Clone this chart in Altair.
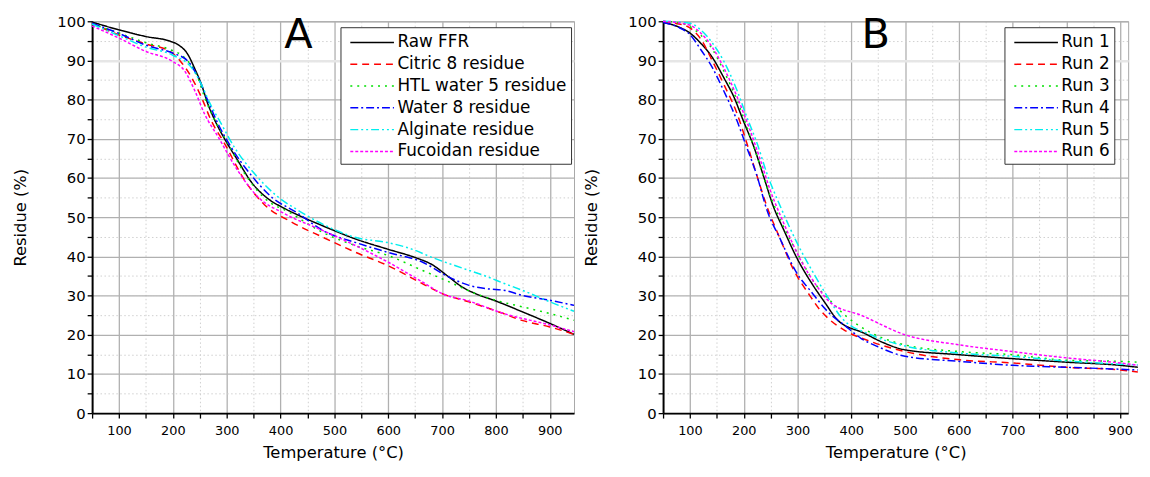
import altair as alt
import pandas as pd

# ---------------- Panel A data ----------------
a_names = ["Raw FFR", "Citric 8 residue", "HTL water 5 residue",
           "Water 8 residue", "Alginate residue", "Fucoidan residue"]

rawffr_T = [50, 100, 150, 195, 210, 228, 240, 253, 265, 278, 296, 320, 345, 375, 405, 430,
            480, 540, 600, 650, 680, 713, 737, 762, 800, 850, 900, 945]
rawffr_R = [99.8, 97.8, 96.1, 94.9, 94.0, 91.5, 88.1, 83.9, 78.9, 74.7, 70.0, 64.6, 59.1, 54.9,
            52.4, 50.7, 47.7, 44.4, 41.8, 39.7, 38.0, 34.7, 32.2, 30.5, 28.6, 25.8, 22.9, 20.1]

citric_T = [50, 100, 150, 195, 214, 235, 253, 271, 296, 333, 370, 420, 480, 540, 600, 664,
            700, 750, 810, 850, 900, 945]
citric_R = [99.5, 96.5, 94.2, 92.3, 89.8, 85.6, 80.6, 74.7, 68.8, 59.5, 53.2, 48.8, 44.8, 41.0,
            37.6, 33.0, 30.5, 28.4, 25.6, 23.6, 22.0, 20.1]

htl_T = [50, 100, 150, 194, 222, 244, 259, 278, 299, 333, 370, 418, 480, 540, 600, 664,
         713, 762, 810, 850, 900, 945]
htl_R = [99.3, 97.0, 94.5, 92.8, 90.7, 86.4, 80.6, 74.7, 69.6, 61.2, 54.9, 51.1, 46.0, 42.7,
         40.2, 36.4, 33.5, 30.5, 28.4, 27.1, 25.4, 23.7]

water_T = [50, 100, 150, 199, 228, 247, 265, 284, 308, 345, 382, 431, 480, 540, 600, 664,
           713, 750, 786, 817, 850, 900, 945]
water_R = [99.5, 96.9, 93.9, 91.9, 89.8, 85.6, 79.7, 73.8, 67.9, 60.8, 55.3, 51.1, 46.5, 43.5,
           41.0, 38.5, 34.7, 32.6, 31.7, 31.3, 30.0, 28.8, 27.5]

alginate_T = [50, 100, 150, 199, 235, 253, 268, 290, 314, 351, 394, 431, 480, 540, 600, 645,
              682, 725, 786, 817, 850, 900, 945]
alginate_R = [99.3, 96.3, 93.4, 91.4, 88.1, 83.9, 79.3, 73.8, 67.9, 61.2, 55.3, 51.9, 48.1, 44.8,
              43.5, 41.8, 39.7, 37.6, 34.7, 33.0, 31.3, 28.4, 26.0]

fucoidan_T = [50, 100, 150, 199, 222, 241, 259, 284, 320, 357, 406, 480, 540, 600, 664, 700,
              750, 810, 900, 945]
fucoidan_R = [98.8, 95.7, 92.3, 89.8, 87.3, 82.2, 76.3, 70.5, 62.0, 55.3, 51.0, 46.5, 42.7, 38.5,
              33.4, 30.5, 28.6, 25.6, 22.5, 20.8]

# ---------------- Panel B data ----------------
b_names = ["Run 1", "Run 2", "Run 3", "Run 4", "Run 5", "Run 6"]

run1_T = [50, 78, 100, 120, 142, 163, 182, 199, 219, 237, 255, 274, 300, 329, 350, 375, 424,
          461, 498, 602, 700, 800, 900, 933]
run1_R = [99.7, 98.6, 97.0, 94.4, 90.7, 85.6, 80.6, 74.7, 67.9, 60.4, 52.8, 46.9, 39.3, 32.6,
          28.4, 23.7, 20.4, 17.9, 16.2, 14.9, 13.9, 13.0, 12.2, 11.7]

run2_T = [50, 80, 100, 120, 142, 163, 188, 206, 225, 243, 268, 292, 323, 341, 357, 387, 436,
          500, 602, 700, 800, 900, 933]
run2_R = [99.8, 99.3, 98.3, 95.5, 89.8, 83.9, 76.3, 68.8, 60.4, 52.8, 44.4, 36.8, 30.0, 26.5,
          24.2, 21.2, 18.3, 15.7, 13.6, 12.8, 11.7, 11.0, 10.5]

run3_T = [50, 80, 100, 120, 142, 163, 188, 206, 225, 243, 268, 299, 335, 363, 390, 418, 500,
          602, 700, 800, 900, 933]
run3_R = [100.0, 99.6, 98.6, 96.5, 92.8, 87.3, 79.7, 73.0, 65.4, 57.8, 49.4, 41.0, 32.6, 28.4,
          24.8, 22.0, 17.4, 15.7, 14.9, 13.5, 13.2, 13.0]

run4_T = [50, 78, 100, 120, 142, 163, 185, 203, 225, 243, 268, 298, 326, 357, 387, 418, 449,
          500, 602, 700, 800, 900, 933]
run4_R = [99.7, 98.5, 96.6, 92.8, 88.1, 82.2, 75.5, 68.8, 60.4, 51.9, 44.4, 35.9, 30.9, 25.8,
          22.5, 19.1, 17.0, 14.5, 13.2, 12.2, 11.7, 11.2, 11.0]

run5_T = [50, 100, 120, 142, 163, 188, 206, 225, 243, 268, 299, 329, 360, 381, 436, 492, 602,
          700, 800, 900, 933]
run5_R = [100.0, 99.5, 97.8, 94.4, 89.8, 82.2, 75.5, 68.8, 61.2, 52.8, 43.5, 35.9, 28.8, 24.5,
          20.0, 17.4, 15.3, 14.5, 13.3, 12.5, 12.3]

run6_T = [50, 100, 120, 142, 163, 188, 212, 231, 249, 274, 305, 335, 363, 418, 500, 602, 700,
          800, 900, 933]
run6_R = [100.0, 99.0, 97.0, 93.3, 88.1, 80.6, 72.1, 64.6, 57.0, 48.6, 39.3, 32.6, 28.0, 25.0,
          20.0, 17.4, 15.7, 14.1, 12.8, 12.2]

x_ticks_a = list(range(50, 901, 50))
x_ticks_b = list(range(50, 901, 50))
y_ticks = list(range(0, 101, 5))

colors = ["#000000", "#ff0000", "#00e000", "#0000ff", "#00eeee", "#ff00ff"]
dashes = [[1, 0], [7, 5], [2, 5], [8, 3, 2, 3], [8, 3, 2, 3, 2, 3], [3, 2]]

FONT = "DejaVu Sans"


def long_table(names, Ts, Rs):
    rows = []
    for n, T, R in zip(names, Ts, Rs):
        for t, r in zip(T, R):
            rows.append({"series": n, "T": t, "R": r})
    return pd.DataFrame(rows)


def x_axis(vals):
    return alt.Axis(
        values=vals,
        labelExpr="datum.value % 100 === 0 ? datum.label : ''",
        labelOverlap=False,
        tickSize=5,
        labelPadding=7,
        labelFontSize=13,
        titlePadding=7,
        gridDash={"condition": {"test": "datum.value % 100 === 0", "value": [1, 0]},
                  "value": [1.5, 2.5]},
        gridColor={"condition": {"test": "datum.value % 100 === 0", "value": "#b0b0b0"},
                   "value": "#cfcfcf"},
        gridWidth={"condition": {"test": "datum.value % 100 === 0", "value": 1.3},
                   "value": 1},
    )


def y_axis():
    return alt.Axis(
        values=y_ticks,
        labelExpr="datum.value % 10 === 0 ? datum.label : ''",
        labelOverlap=False,
        tickSize=5,
        labelPadding=2,
        labelFontSize=15,
        titlePadding=29,
        gridDash={"condition": {"test": "datum.value % 10 === 0", "value": [1, 0]},
                  "value": [1.5, 2.5]},
        gridColor={"condition": [{"test": "datum.value === 90", "value": "#e6e6e6"},
                                 {"test": "datum.value % 10 === 0", "value": "#b0b0b0"}],
                   "value": "#cfcfcf"},
        gridWidth={"condition": [{"test": "datum.value === 90", "value": 2.5},
                                 {"test": "datum.value % 10 === 0", "value": 1.3}],
                   "value": 1},
    )


def legend(lx, ly):
    return alt.Legend(
        orient="none", legendX=lx, legendY=ly, title=None,
        symbolType="M-2.1,0H2.1", symbolSize=441, symbolStrokeWidth=1.5,
        symbolOffset=16.5, labelOffset=14, labelFontSize=17, labelFont=FONT,
        labelColor="black", labelLimit=400, strokeColor="#333333", fillColor="white",
        padding=4, rowPadding=2,
    )


def panel(names, Ts, Rs, domain_max, width, xvals, lx, ly, letter, letter_x):
    df = long_table(names, Ts, Rs)
    leg = legend(lx, ly)
    lines = alt.Chart(df).mark_line(strokeWidth=1.5, interpolate="monotone").encode(
        x=alt.X("T:Q", title="Temperature (°C)",
                scale=alt.Scale(domain=[50, domain_max], nice=False, zero=False),
                axis=x_axis(xvals)),
        y=alt.Y("R:Q", title="Residue (%)",
                scale=alt.Scale(domain=[0, 100], nice=False, zero=False),
                axis=y_axis()),
        color=alt.Color("series:N", scale=alt.Scale(domain=names, range=colors), legend=leg),
        strokeDash=alt.StrokeDash("series:N", scale=alt.Scale(domain=names, range=dashes),
                                  legend=leg),
    )
    txt = alt.Chart(pd.DataFrame({"t": [letter]})).mark_text(
        font=FONT, fontSize=42, align="center", baseline="top", color="black"
    ).encode(text="t:N", x=alt.value(letter_x), y=alt.value(-6))
    return alt.layer(lines, txt).properties(width=width, height=396)


panel_a = panel(a_names,
                [rawffr_T, citric_T, htl_T, water_T, alginate_T, fucoidan_T],
                [rawffr_R, citric_R, htl_R, water_R, alginate_R, fucoidan_R],
                945, 487, x_ticks_a, 251, 6, "A", 208.5)
panel_b = panel(b_names,
                [run1_T, run2_T, run3_T, run4_T, run5_T, run6_T],
                [run1_R, run2_R, run3_R, run4_R, run5_R, run6_R],
                915, 470, x_ticks_b, 345, 6, "B", 215)

chart = alt.hconcat(panel_a, panel_b, spacing=4).resolve_scale(
    color="independent", strokeDash="independent"
).properties(
    padding={"left": 3, "top": 3, "right": 0, "bottom": 0},
).configure_view(
    stroke="#a8a8a8", strokeWidth=1
).configure_axis(
    labelFont=FONT, titleFont=FONT, titleFontSize=16.5, titleFontWeight="normal",
    labelColor="black", titleColor="black", domainColor="black", domainWidth=2,
    tickColor="black", tickWidth=1.3, grid=True,
)

chart.save("out.html", embed_options={"renderer": "svg", "actions": False})
